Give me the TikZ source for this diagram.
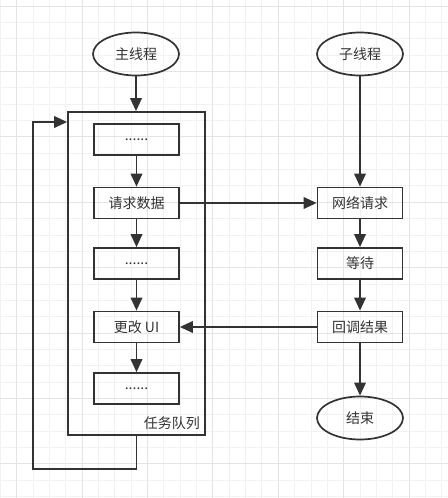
\documentclass[tikz,border=0pt]{standalone}
\usepackage{fontspec}
\setmainfont{Noto Sans CJK SC}
\usetikzlibrary{arrows.meta,shapes.geometric}
\definecolor{ink}{HTML}{333333}
\definecolor{gridminor}{HTML}{F2F2F2}
\definecolor{gridmajor}{HTML}{E4E4E4}
\begin{document}
\begin{tikzpicture}[x=1bp,y=-1bp,
  every node/.style={font=\fontsize{14bp}{16bp}\selectfont, text=ink},
  boxnode/.style={draw=ink, line width=1.7bp, rectangle, minimum width=85bp, minimum height=31bp, inner sep=0pt},
  ovalnode/.style={draw=ink, line width=1.7bp, ellipse, minimum width=86bp, minimum height=43bp, inner sep=0pt},
  queuebox/.style={draw=ink, line width=1.7bp, rectangle, minimum width=137bp, minimum height=323bp, inner sep=0pt},
  arr/.style={draw=ink, line width=1.9bp, -{Triangle[length=13bp,width=11.5bp]}},
  plainline/.style={draw=ink, line width=1.9bp}]
\useasboundingbox (0,0) rectangle (448,498);
\fill[white] (0,0) rectangle (448,498);
% grid
\foreach \i in {0,...,28} {
  \draw[gridminor, line width=0.8bp] ({0.25+16.35*\i},0) -- ({0.25+16.35*\i},498);
}
\foreach \j in {0,...,30} {
  \draw[gridminor, line width=0.8bp] (0,{6+16.35*\j}) -- (448,{6+16.35*\j});
}
\foreach \i in {0,...,6} {
  \draw[gridmajor, line width=0.9bp] ({16.6+65.4*\i},0) -- ({16.6+65.4*\i},498);
}
\foreach \j in {0,...,7} {
  \draw[gridmajor, line width=0.9bp] (0,{6+65.4*\j}) -- (448,{6+65.4*\j});
}
% nodes
\node[ovalnode] (mainth) at (136,54) {主线程};
\node[ovalnode] (subth) at (360,54) {子线程};
\node[queuebox] (queue) at (136.5,273.5) {};
\node[anchor=east, inner sep=0pt] (qlabel) at (200,423) {任务队列};
\node[boxnode] (t1) at (136.5,139.5) {......};
\node[boxnode] (t2) at (136.5,203) {请求数据};
\node[boxnode] (t3) at (136.5,263.5) {......};
\node[boxnode] (t4) at (136.5,327) {更改 UI};
\node[boxnode] (t5) at (136.5,388.5) {......};
\node[boxnode] (r1) at (360,203) {网络请求};
\node[boxnode] (r2) at (360,263.5) {等待};
\node[boxnode] (r3) at (360,327) {回调结果};
\node[ovalnode] (fin) at (360,418) {结束};
\coordinate (loopA) at (33,469);
\coordinate (loopB) at (33,122);
% connectors
\draw[arr] (mainth) -- (queue.north -| mainth);
\draw[arr] (t1) -- (t2);
\draw[arr] (t2) -- (t3);
\draw[arr] (t3) -- (t4);
\draw[arr] (t4) -- (t5);
\draw[arr] (subth) -- (r1);
\draw[arr] (r1) -- (r2);
\draw[arr] (r2) -- (r3);
\draw[arr] (r3) -- (fin);
\draw[arr] (t2) -- (r1);
\draw[arr] (r3) -- (t4);
\draw[arr, line join=miter] (queue.south) |- (loopA) -- (loopB) -- (queue.west |- loopB);
\end{tikzpicture}
\end{document}
